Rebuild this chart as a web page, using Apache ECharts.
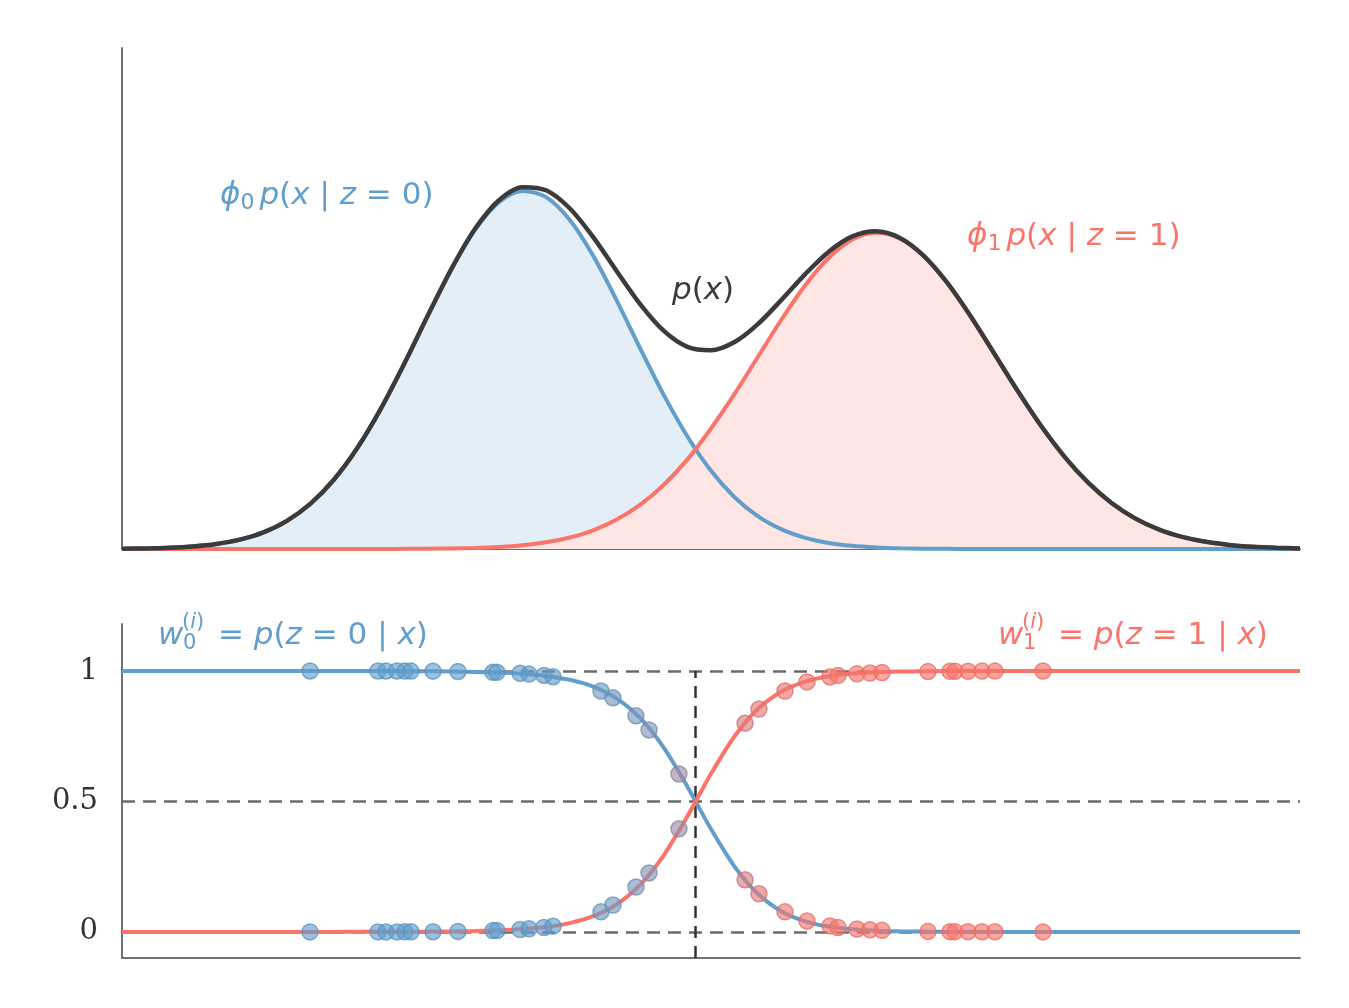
<!DOCTYPE html>
<html>
<head>
<meta charset="utf-8">
<title>Mixture responsibilities</title>
<script src="https://cdn.jsdelivr.net/npm/echarts@6/dist/echarts.min.js"></script>
<style>
  html, body { margin: 0; padding: 0; background: #fff; }
  #main { width: 1349px; height: 1008px; }
</style>
</head>
<body>
<div id="main"></div>
<script>
// shared x grid (step 2) for all curves
var curveX = [0, 2, 4, 6, 8, 10, 12, 14, 16, 18, 20, 22, 24, 26, 28, 30, 32, 34, 36, 38, 40, 42, 44, 46, 48,
    50, 52, 54, 56, 58, 60, 62, 64, 66, 68, 70, 72, 74, 76, 78, 80, 82, 84, 86, 88, 90, 92, 94, 96, 98, 100];

// top panel: weighted component densities and the mixture p(x)
var comp0 = [0.0005, 0.0011, 0.0025, 0.0051, 0.0100, 0.0187, 0.0332, 0.0562, 0.0905, 0.1387, 0.2024, 0.2810,
    0.3714, 0.4674, 0.5596, 0.6379, 0.6920, 0.7146, 0.7024, 0.6571, 0.5851, 0.4958, 0.4000, 0.3071, 0.2245,
    0.1561, 0.1034, 0.0651, 0.0391, 0.0223, 0.0121, 0.0063, 0.0031, 0.0014, 0.0006, 0.0003, 0.0001, 0, 0, 0,
    0, 0, 0, 0, 0, 0, 0, 0, 0, 0, 0];
var comp1 = [0, 0, 0, 0, 0, 0, 0, 0, 0, 0, 0, 0.0001, 0.0003, 0.0005, 0.0011, 0.0022, 0.0042, 0.0077, 0.0136,
    0.0230, 0.0374, 0.0587, 0.0884, 0.1282, 0.1789, 0.2406, 0.3096, 0.3842, 0.4586, 0.5265, 0.5814, 0.6176,
    0.6310, 0.6200, 0.5860, 0.5327, 0.4658, 0.3917, 0.3169, 0.2465, 0.1845, 0.1328, 0.0919, 0.0612, 0.0392,
    0.0242, 0.0143, 0.0082, 0.0045, 0.0024, 0.0012];
var mixture = [0.0005, 0.0011, 0.0025, 0.0051, 0.0100, 0.0187, 0.0332, 0.0562, 0.0905, 0.1387, 0.2024, 0.2811,
    0.3717, 0.4679, 0.5607, 0.6401, 0.6962, 0.7223, 0.7160, 0.6801, 0.6225, 0.5545, 0.4884, 0.4353, 0.4034,
    0.3967, 0.4130, 0.4493, 0.4977, 0.5488, 0.5935, 0.6239, 0.6341, 0.6214, 0.5866, 0.5330, 0.4659, 0.3917,
    0.3169, 0.2465, 0.1845, 0.1328, 0.0919, 0.0612, 0.0392, 0.0242, 0.0143, 0.0082, 0.0045, 0.0024, 0.0012];

// bottom panel: responsibility curves
var resp0 = [1, 1, 1, 1, 1, 1, 1, 0.9999, 0.9999, 0.9999, 0.9998, 0.9996, 0.9993, 0.9988, 0.9980, 0.9965,
    0.9940, 0.9893, 0.9811, 0.9662, 0.9399, 0.8942, 0.8189, 0.7054, 0.5565, 0.3942, 0.2503, 0.1450, 0.0785,
    0.0407, 0.0204, 0.0100, 0.0049, 0.0023, 0.0011, 0.0005, 0.0002, 0.0001, 0, 0, 0, 0, 0, 0, 0, 0, 0, 0, 0,
    0, 0];
var resp1 = [0, 0, 0, 0, 0, 0, 0, 0.0001, 0.0001, 0.0001, 0.0002, 0.0004, 0.0007, 0.0012, 0.0020, 0.0035,
    0.0060, 0.0107, 0.0189, 0.0338, 0.0601, 0.1058, 0.1811, 0.2946, 0.4435, 0.6058, 0.7497, 0.8550, 0.9215,
    0.9593, 0.9796, 0.9900, 0.9951, 0.9977, 0.9989, 0.9995, 0.9998, 0.9999, 1, 1, 1, 1, 1, 1, 1, 1, 1, 1, 1,
    1, 1];

// data points and their responsibilities
var pointX = [15.96, 21.73, 22.41, 23.34, 24.02, 24.53, 26.40, 28.52, 31.49, 31.83, 33.79, 34.55, 35.82, 36.59,
    40.66, 41.68, 43.63, 44.74, 47.28, 52.89, 54.07, 56.28, 58.15, 60.10, 60.78, 62.39, 63.50, 64.52, 68.42,
    70.29, 70.71, 71.82, 73.01, 74.11, 78.18];
var pointW0 = [1, 1, 1, 1, 0.9996, 0.9995, 0.9992, 0.998, 0.995, 0.995, 0.991, 0.988, 0.983, 0.978, 0.923, 0.897,
    0.828, 0.774, 0.605, 0.200, 0.146, 0.077, 0.042, 0.023, 0.017, 0.011, 0.008, 0.006, 0.002, 0.001, 0.001,
    0.001, 0.0005, 0.0004, 0.0001];
var pointW1 = [0, 0, 0, 0, 0.0004, 0.0005, 0.0008, 0.002, 0.005, 0.005, 0.009, 0.012, 0.017, 0.022, 0.077, 0.103,
    0.172, 0.226, 0.395, 0.800, 0.854, 0.923, 0.958, 0.977, 0.983, 0.989, 0.992, 0.994, 0.998, 0.999, 0.999,
    0.999, 0.9995, 0.9996, 0.9999];

var boundaryX = 48.64;
var respTicks = [0, 0.5, 1];

var blueRGB = [97, 158, 204];
var redRGB = [250, 116, 106];
var blue = 'rgb(97,158,204)';
var red = 'rgb(250,116,106)';
var dark = '#3b3b3b';
var axisGray = '#707070';
var mathFont = 'DejaVu Sans';
var mathSize = 31;

function pairs(xs, ys) {
    return xs.map(function (x, i) { return [x, ys[i]]; });
}

// point colour goes from blue to red with w1
function mixColor(t, alpha, shade) {
    var c = [0, 1, 2].map(function (k) {
        return Math.round((blueRGB[k] + (redRGB[k] - blueRGB[k]) * t) * shade);
    });
    return 'rgba(' + c.join(',') + ',' + alpha + ')';
}

function pointData(ys) {
    return pointX.map(function (x, i) {
        return {
            value: [x, ys[i]],
            itemStyle: {
                color: mixColor(pointW1[i], 0.8, 1),
                borderColor: mixColor(pointW1[i], 0.95, 0.93),
                borderWidth: 1.5
            }
        };
    });
}

function mathRich(color, size) {
    return {
        i: { fontFamily: mathFont, fontStyle: 'italic', fontSize: size, lineHeight: 36, fill: color },
        ip: { fontFamily: mathFont, fontStyle: 'italic', fontSize: size, lineHeight: 36, fill: color, padding: [0, 0, 0, 5] },
        r: { fontFamily: mathFont, fontSize: size, lineHeight: 36, fill: color },
        s: { fontFamily: mathFont, fontSize: 22, lineHeight: 22, verticalAlign: 'bottom', fill: color }
    };
}

function textEl(x, y, text, color, size) {
    return {
        type: 'text',
        x: x,
        y: y,
        silent: true,
        style: {
            text: text,
            rich: mathRich(color, size),
            fill: color,
            font: size + 'px "' + mathFont + '"',
            align: 'left', textAlign: 'left',
            verticalAlign: 'middle', textVerticalAlign: 'middle'
        }
    };
}

// w_k^(i) = p(z = k | x), sub and superscript stacked
function wLabel(x, y, k, color) {
    return [
        textEl(x, y, '{i|w}', color, mathSize),
        textEl(x + 24, y - 13, '{r|(}{i|i}{r|)}', color, 21),
        textEl(x + 25, y + 8, '{r|' + k + '}', color, 21),
        textEl(x + 60, y, '{r|= }{i|p}{r|(}{i|z}{r| = ' + k + ' | }{i|x}{r|)}', color, mathSize)
    ];
}

var chart = echarts.init(document.getElementById('main'));

var hiddenAxis = {
    axisTick: { show: false },
    axisLabel: { show: false },
    splitLine: { show: false }
};

var option = {
    animation: false,
    backgroundColor: '#ffffff',
    grid: [
        { left: 122, top: 48, width: 1178, height: 501 },
        { left: 122, top: 624, width: 1178, height: 334 }
    ],
    xAxis: [
        Object.assign({ gridIndex: 0, type: 'value', min: 0, max: 100,
            axisLine: { show: true, onZero: false, lineStyle: { color: axisGray, width: 2 } } }, hiddenAxis),
        Object.assign({ gridIndex: 1, type: 'value', min: 0, max: 100,
            axisLine: { show: true, onZero: false, lineStyle: { color: axisGray, width: 2 } } }, hiddenAxis)
    ],
    yAxis: [
        Object.assign({ gridIndex: 0, type: 'value', min: 0, max: 1,
            axisLine: { show: true, onZero: false, lineStyle: { color: axisGray, width: 2 } } }, hiddenAxis),
        {
            gridIndex: 1, type: 'value', min: -0.1, max: 1.18,
            axisLine: { show: true, onZero: false, lineStyle: { color: axisGray, width: 2 } },
            axisTick: { show: false },
            splitLine: { show: false },
            axisLabel: {
                customValues: respTicks,
                fontFamily: 'DejaVu Serif',
                fontSize: 29,
                color: '#333333',
                margin: 24
            }
        }
    ],
    graphic: [
        textEl(220, 196, '{i|ϕ}{s|0}{ip|p}{r|(}{i|x}{r| | }{i|z}{r| = 0)}', blue, mathSize),
        textEl(967, 237, '{i|ϕ}{s|1}{ip|p}{r|(}{i|x}{r| | }{i|z}{r| = 1)}', red, mathSize),
        textEl(672, 291, '{i|p}{r|(}{i|x}{r|)}', dark, mathSize)
    ].concat(wLabel(158, 636, 0, blue), wLabel(998, 636, 1, red)),
    series: [
        {
            type: 'line', xAxisIndex: 0, yAxisIndex: 0, z: 1, silent: true,
            data: pairs(curveX, comp0), showSymbol: false, smooth: 0.3,
            lineStyle: { width: 0 }, areaStyle: { color: '#e3eef7', opacity: 1 }
        },
        {
            type: 'line', xAxisIndex: 0, yAxisIndex: 0, z: 1, silent: true,
            data: pairs(curveX, comp1), showSymbol: false, smooth: 0.3,
            lineStyle: { width: 0 }, areaStyle: { color: '#fee6e4', opacity: 1 }
        },
        {
            type: 'line', xAxisIndex: 0, yAxisIndex: 0, z: 3,
            data: pairs(curveX, comp0), showSymbol: false, smooth: 0.3,
            lineStyle: { color: blue, width: 4 }
        },
        {
            type: 'line', xAxisIndex: 0, yAxisIndex: 0, z: 3,
            data: pairs(curveX, comp1), showSymbol: false, smooth: 0.3,
            lineStyle: { color: red, width: 4 }
        },
        {
            type: 'line', xAxisIndex: 0, yAxisIndex: 0, z: 4,
            data: pairs(curveX, mixture), showSymbol: false, smooth: 0.3,
            lineStyle: { color: dark, width: 4.5 }
        },
        {
            type: 'line', xAxisIndex: 1, yAxisIndex: 1, z: 3,
            data: pairs(curveX, resp0), showSymbol: false, smooth: 0.3,
            lineStyle: { color: blue, width: 4 },
            markLine: {
                silent: true, z: 1, symbol: 'none', animation: false,
                label: { show: false },
                lineStyle: { color: '#6b6b6b', width: 2.5, type: [13, 8] },
                data: [
                    { yAxis: 0 }, { yAxis: 0.5 }, { yAxis: 1 },
                    [
                        { coord: [boundaryX, -0.1], lineStyle: { color: '#333333', width: 2.5, type: [12, 8] } },
                        { coord: [boundaryX, 1] }
                    ]
                ]
            }
        },
        {
            type: 'line', xAxisIndex: 1, yAxisIndex: 1, z: 3,
            data: pairs(curveX, resp1), showSymbol: false, smooth: 0.3,
            lineStyle: { color: red, width: 4 }
        },
        {
            type: 'scatter', xAxisIndex: 1, yAxisIndex: 1, z: 5,
            symbolSize: 16, data: pointData(pointW0)
        },
        {
            type: 'scatter', xAxisIndex: 1, yAxisIndex: 1, z: 5,
            symbolSize: 16, data: pointData(pointW1)
        }
    ]
};

chart.setOption(option);
</script>
</body>
</html>
